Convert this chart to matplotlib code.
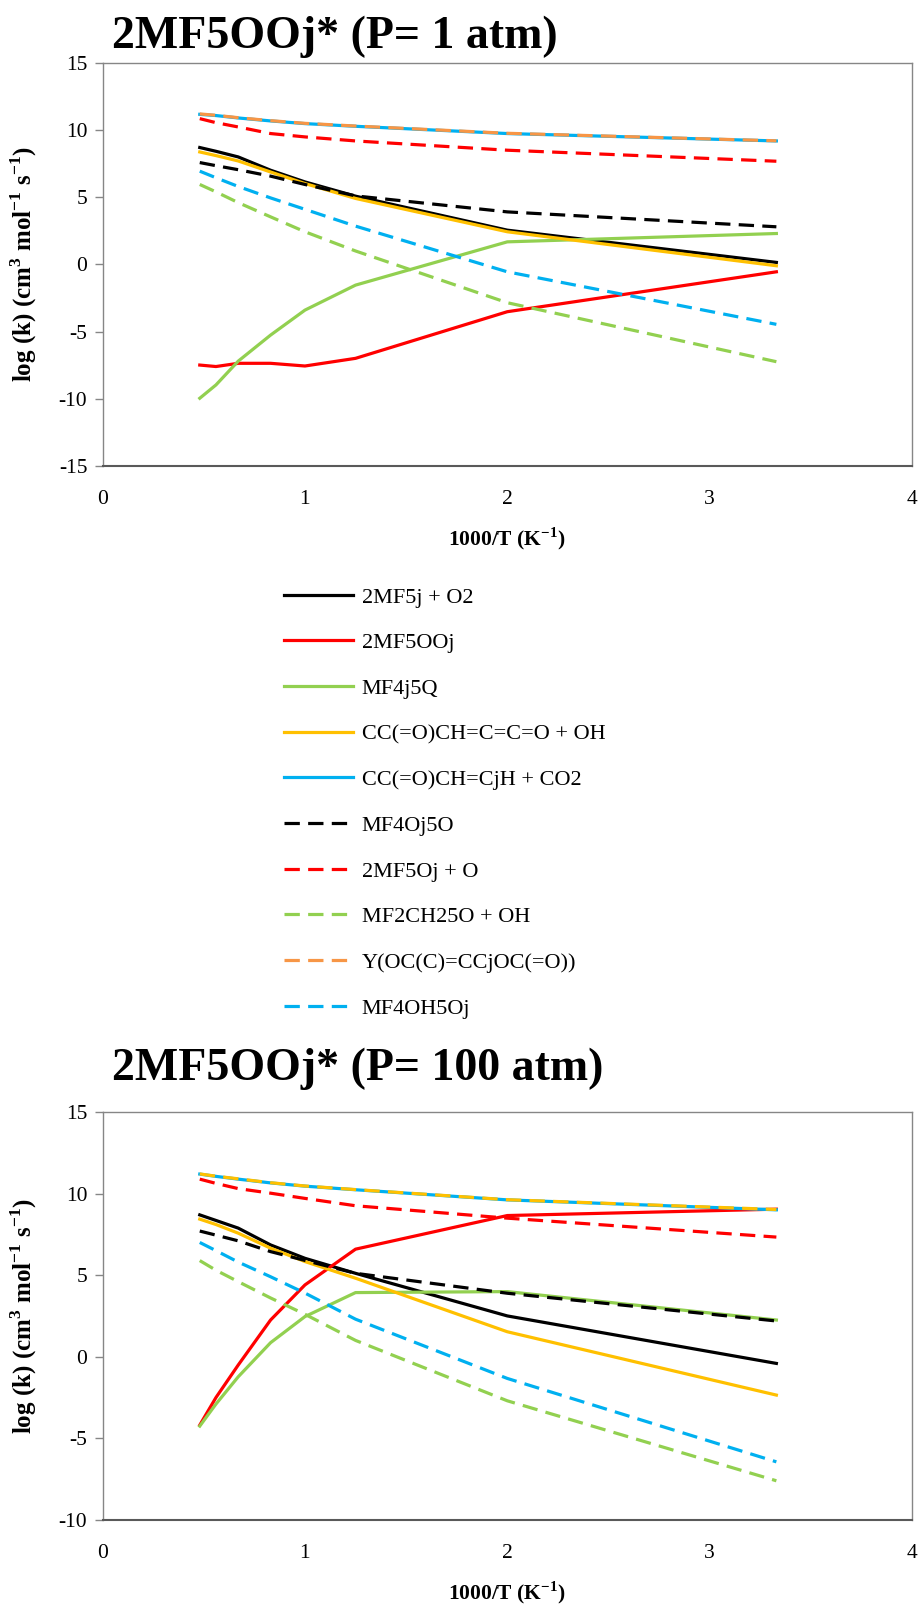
import matplotlib
matplotlib.use('Agg')
import matplotlib.pyplot as plt
from matplotlib.lines import Line2D

plt.rcParams['font.family'] = ['Liberation Serif', 'DejaVu Serif']
plt.rcParams['axes.unicode_minus'] = False

# 1000/T values (K^-1)
inv_T = [0.48, 0.56, 0.67, 0.83, 1.0, 1.25, 2.0, 3.33]

labels = ['2MF5j + O2', '2MF5OOj', 'MF4j5Q', 'CC(=O)CH=C=C=O + OH',
          'CC(=O)CH=CjH + CO2', 'MF4Oj5O', '2MF5Oj + O', 'MF2CH25O + OH',
          'Y(OC(C)=CCjOC(=O))', 'MF4OH5Oj']

# P = 1 atm
p1_2MF5j_O2 = [8.70, 8.42, 8.00, 7.01, 6.14, 5.08, 2.55, 0.15]
p1_2MF5OOj = [-7.49, -7.60, -7.36, -7.36, -7.56, -6.99, -3.52, -0.55]
p1_MF4j5Q = [-9.96, -8.97, -7.20, -5.26, -3.40, -1.54, 1.68, 2.30]
p1_CCO_CCO_OH = [8.37, 8.10, 7.70, 6.88, 6.02, 4.91, 2.43, -0.10]
p1_CCO_CjH_CO2 = [11.17, 11.08, 10.90, 10.68, 10.48, 10.28, 9.74, 9.19]
p1_MF4Oj5O = [7.58, 7.35, 7.05, 6.57, 5.95, 5.10, 3.91, 2.80]
p1_2MF5Oj_O = [10.85, 10.55, 10.23, 9.74, 9.49, 9.19, 8.50, 7.68]
p1_MF2CH25O_OH = [5.95, 5.40, 4.60, 3.54, 2.43, 1.00, -2.85, -7.24]
p1_Y = [11.20, 11.10, 10.92, 10.70, 10.50, 10.30, 9.76, 9.20]
p1_MF4OH5Oj = [6.94, 6.45, 5.80, 4.95, 4.10, 2.85, -0.55, -4.46]

# P = 100 atm
p100_2MF5j_O2 = [8.69, 8.35, 7.88, 6.85, 6.03, 5.11, 2.50, -0.41]
p100_2MF5OOj = [-4.19, -2.50, -0.51, 2.25, 4.40, 6.59, 8.65, 9.04]
p100_MF4j5Q = [-4.25, -2.90, -1.23, 0.86, 2.46, 3.93, 3.99, 2.25]
p100_CCO_CCO_OH = [8.43, 8.10, 7.57, 6.65, 5.83, 4.81, 1.53, -2.35]
p100_CCO_CjH_CO2 = [11.19, 11.05, 10.88, 10.65, 10.45, 10.23, 9.61, 9.00]
p100_MF4Oj5O = [7.70, 7.45, 7.10, 6.44, 5.90, 5.11, 3.89, 2.19]
p100_2MF5Oj_O = [10.88, 10.62, 10.30, 10.02, 9.70, 9.25, 8.49, 7.33]
p100_MF2CH25O_OH = [5.89, 5.30, 4.60, 3.60, 2.60, 1.00, -2.70, -7.60]
p100_Y = [11.20, 11.06, 10.90, 10.66, 10.46, 10.24, 9.62, 9.02]
p100_MF4OH5Oj = [7.00, 6.50, 5.80, 4.90, 3.90, 2.30, -1.33, -6.44]

colors = ['#000000', '#FF0000', '#92D050', '#FFC000', '#00B0F0',
          '#000000', '#FF0000', '#92D050', '#F79646', '#00B0F0']
styles = ['-'] * 5 + ['--'] * 5
dash = (4.8, 2.6)
lw = 2.3

fig = plt.figure(figsize=(9.19, 16.04), dpi=100)


def draw(ax, series, colors_used, ylim, yticks):
    for s, c, ls in zip(series, colors_used, styles):
        if ls == '--':
            ax.plot(inv_T, s, color=c, lw=lw, linestyle=(0, dash), solid_capstyle='butt')
        else:
            ax.plot(inv_T, s, color=c, lw=lw, solid_joinstyle='round')
    ax.set_xlim(0, 4)
    ax.set_ylim(*ylim)
    ax.set_xticks([0, 1, 2, 3, 4])
    ax.set_yticks(yticks)
    ax.tick_params(axis='x', length=0, labelsize=15.5, pad=17)
    ax.tick_params(axis='y', length=6, width=1, color='#868686', labelsize=15.5, pad=5)
    for side in ['left', 'right', 'top']:
        ax.spines[side].set_color('#868686')
        ax.spines[side].set_linewidth(1)
    ax.spines['bottom'].set_color('#595959')
    ax.spines['bottom'].set_linewidth(1.5)
    ax.set_xlabel('1000/T (K$^{\\mathregular{-1}}$)', fontsize=15.5, fontweight='bold', labelpad=12)
    ax.set_ylabel('log (k) (cm$^{\\mathregular{3}}$ mol$^{\\mathregular{-1}}$ s$^{\\mathregular{-1}}$)',
                  fontsize=18, fontweight='bold')
    ax.yaxis.set_label_coords(-0.079, 0.5)


ax1 = fig.add_axes([0.1117, 0.7095, 0.8806, 0.2513])
series1 = [p1_2MF5j_O2, p1_2MF5OOj, p1_MF4j5Q, p1_CCO_CCO_OH, p1_CCO_CjH_CO2,
           p1_MF4Oj5O, p1_2MF5Oj_O, p1_MF2CH25O_OH, p1_Y, p1_MF4OH5Oj]
draw(ax1, series1, colors, (-15, 15), [-15, -10, -5, 0, 5, 10, 15])

ax2 = fig.add_axes([0.1117, 0.0524, 0.8806, 0.2544])
series2 = [p100_2MF5j_O2, p100_2MF5OOj, p100_MF4j5Q, p100_CCO_CCO_OH, p100_CCO_CjH_CO2,
           p100_MF4Oj5O, p100_2MF5Oj_O, p100_MF2CH25O_OH, p100_Y, p100_MF4OH5Oj]
colors2 = colors[:8] + ['#FFC000', '#00B0F0']
draw(ax2, series2, colors2, (-10, 15), [-10, -5, 0, 5, 10, 15])

fig.text(112 / 919, 1 - 48 / 1604, '2MF5OOj* (P= 1 atm)', fontsize=33, fontweight='bold',
         va='baseline', ha='left')
fig.text(112 / 919, 1 - 1080 / 1604, '2MF5OOj* (P= 100 atm)', fontsize=33, fontweight='bold',
         va='baseline', ha='left')

handles = [Line2D([], [], color=c, lw=lw, linestyle='-' if ls == '-' else (0, dash))
           for c, ls in zip(colors, styles)]
fig.legend(handles, labels, loc='upper left', bbox_to_anchor=(264 / 919, 1 - 567 / 1604),
           frameon=False, fontsize=16, handlelength=3.1, handletextpad=0.4, labelspacing=1.13)

fig.savefig('out.png', dpi=100)
